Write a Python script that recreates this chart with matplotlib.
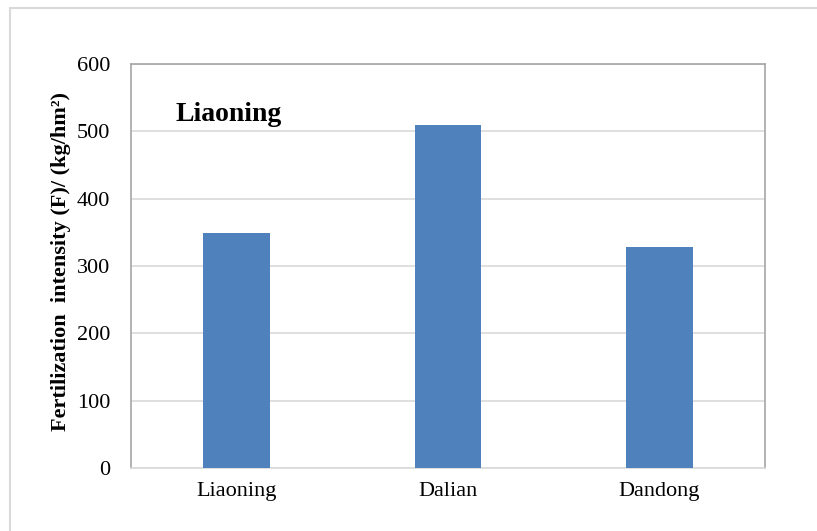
import matplotlib
matplotlib.use('Agg')
import matplotlib.pyplot as plt
from matplotlib.patches import Rectangle

# Fertilization intensity by region
regions = ["Liaoning", "Dalian", "Dandong"]
intensity = [349, 509, 328]
yticks = [0, 100, 200, 300, 400, 500, 600]

plt.rcParams['font.family'] = ['Liberation Serif', 'DejaVu Serif']

fig = plt.figure(figsize=(8.17, 5.31), dpi=100)
ax = fig.add_axes([131/817, 1 - 468/531, (765 - 131)/817, (468 - 64)/531])

x = range(len(regions))
ax.bar(x, intensity, width=0.315, color='#4F81BD', zorder=3)

ax.set_xlim(-0.5, len(regions) - 0.5)
ax.set_ylim(0, 600)
ax.set_yticks(yticks)
ax.set_xticks(list(x))
ax.set_xticklabels(regions)
ax.tick_params(axis='both', length=0, labelsize=16)
ax.tick_params(axis='y', pad=15)
ax.tick_params(axis='x', pad=10)

ax.set_axisbelow(True)
ax.grid(which='major', axis='y', color='#D9D9D9', linewidth=1.2)

for side in ['left', 'right', 'top']:
    ax.spines[side].set_color('#A6A6A6')
    ax.spines[side].set_linewidth(1.2)
ax.spines['bottom'].set_color('#D9D9D9')
ax.spines['bottom'].set_linewidth(1.2)

ax.set_ylabel('Fertilization  intensity (F)/ (kg/hm\u00b2)', fontsize=16,
              fontweight='bold', labelpad=4)
ax.yaxis.label.set_y(0.512)
ax.text(0.07, 0.875, 'Liaoning', transform=ax.transAxes, fontsize=20,
        fontweight='bold', va='center', ha='left')

# light outer chart frame
fig.patches.append(Rectangle((10/817, -0.1), 1.0, 1 - 8/531 + 0.1,
                             transform=fig.transFigure, fill=False,
                             edgecolor='#D9D9D9', linewidth=1.5))

plt.savefig('out.png', dpi=100)
